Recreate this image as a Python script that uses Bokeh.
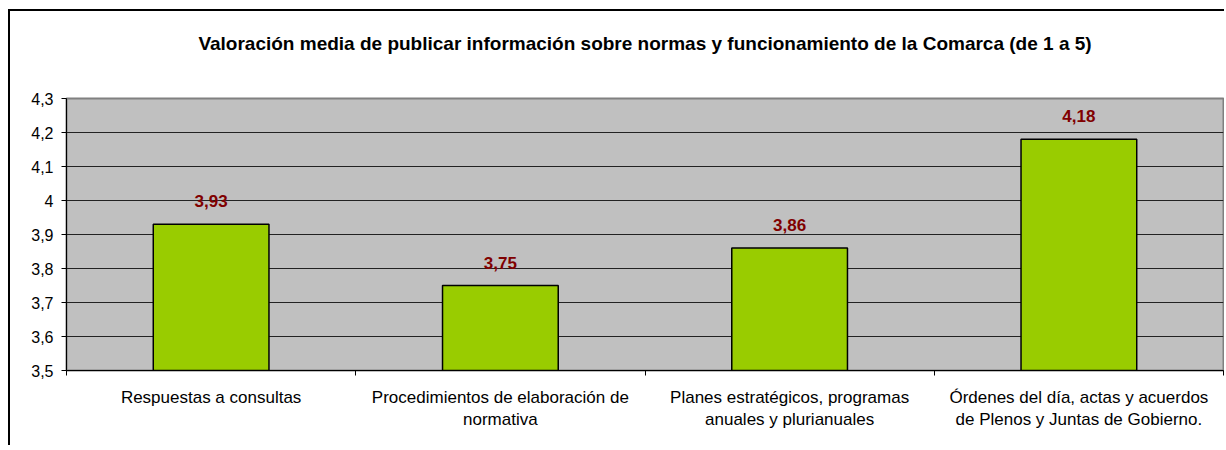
from bokeh.plotting import figure
from bokeh.models import ColumnDataSource, FixedTicker, Range1d
from bokeh.embed import file_html
from bokeh.resources import INLINE
from bokeh.core.properties import value

title = "Valoración media de publicar información sobre normas y funcionamiento de la Comarca (de 1 a 5)"
categories = [
    "Respuestas a consultas",
    "Procedimientos de elaboración de\nnormativa",
    "Planes estratégicos, programas\nanuales y plurianuales",
    "Órdenes del día, actas y acuerdos\nde Plenos y Juntas de Gobierno.",
]
values = [3.93, 3.75, 3.86, 4.18]
y_ticks = [3.5, 3.6, 3.7, 3.8, 3.9, 4.0, 4.1, 4.2, 4.3]

def fmt(v):
    s = ("%.2f" % v).rstrip("0").rstrip(".")
    return s.replace(".", ",")

xs = [i + 0.5 for i in range(len(categories))]
src = ColumnDataSource(dict(x=xs, top=values, lab=[fmt(v) for v in values]))

FONT = "Liberation Sans"
W, H = 1216, 436
MB_L, MB_T, MB_B = 56, 87, 77
p = figure(width=W, height=H, output_backend="svg", toolbar_location=None,
           x_range=Range1d(0, 4), y_range=Range1d(3.5, 4.3),
           min_border_left=MB_L, min_border_right=3, min_border_top=MB_T, min_border_bottom=MB_B)
p.margin = (9, 0, 0, 8)
p.styles = {"border-left": "2px solid black", "border-top": "2px solid black"}
p.background_fill_color = "#C0C0C0"
p.border_fill_color = "white"
p.outline_line_color = "#808080"
p.outline_line_width = 2

# title text followed by blank spacer lines to lift it above the plot area
p.title.text = title + "\n \n "
p.title.align = "center"
p.title.vertical_align = "top"
p.title.text_font = FONT
p.title.text_font_size = "19px"
p.title.text_font_style = "bold"
p.title.text_color = "black"
p.title.standoff = 2
p.title.offset = 8

p.vbar(x="x", top="top", bottom=3.5, width=0.4, source=src,
       fill_color="#99CC00", line_color="black", line_width=1.5)

p.text(x="x", y="top", text="lab", source=src, y_offset=-23,
       text_align="center", text_baseline="middle",
       text_font=value(FONT), text_font_size="17px",
       text_font_style="bold", text_color="#800000")

# y axis
p.yaxis.ticker = FixedTicker(ticks=y_ticks, minor_ticks=[])
p.yaxis.major_label_overrides = {t: fmt(t) for t in y_ticks}
p.yaxis.major_label_text_font = FONT
p.yaxis.major_label_text_font_size = "16px"
p.yaxis.major_label_text_color = "black"
p.yaxis.major_tick_in = 0
p.yaxis.major_tick_out = 5
p.yaxis.major_label_standoff = 8
p.yaxis.axis_line_color = "black"
p.yaxis.major_tick_line_color = "black"

# x axis
p.xaxis.ticker = FixedTicker(ticks=xs, minor_ticks=[0, 1, 2, 3, 4])
p.xaxis.major_label_overrides = {x: c for x, c in zip(xs, categories)}
p.xaxis.major_label_text_font = FONT
p.xaxis.major_label_text_font_size = "17px"
p.xaxis.major_label_text_color = "black"
p.xaxis.major_tick_in = 0
p.xaxis.major_tick_out = 0
p.xaxis.minor_tick_in = 0
p.xaxis.minor_tick_out = 5
p.xaxis.minor_tick_line_color = "black"
p.xaxis.major_label_standoff = 12
p.xaxis.axis_line_color = "black"

p.xgrid.visible = False
p.ygrid.ticker = FixedTicker(ticks=y_ticks)
p.ygrid.grid_line_color = "#222222"
p.ygrid.grid_line_width = 1

open("out.html", "w").write(file_html(p, INLINE))
